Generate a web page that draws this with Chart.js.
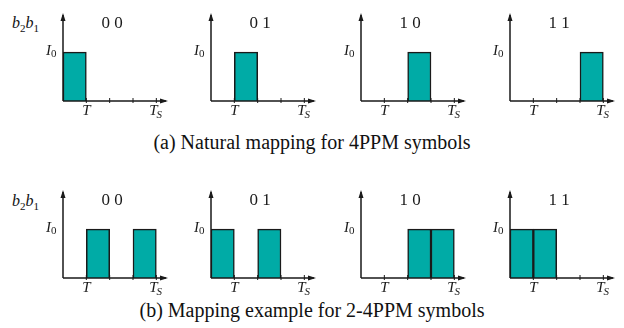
<!DOCTYPE html>
<html>
<head>
<meta charset="utf-8">
<script src="https://cdn.jsdelivr.net/npm/chart.js@4.4.1/dist/chart.umd.min.js"></script>
<style>
  body { margin: 0; background: #fff; }
  #page { position: relative; width: 624px; height: 328px; overflow: hidden; font-family: "Liberation Serif", serif; color: #111; }
  canvas { position: absolute; }
  .bits { position: absolute; left: 12px; font-size: 16px; font-style: italic; line-height: 18px; }
  .bits sub { font-size: 11px; font-style: normal; }
  .caption { position: absolute; left: 0; width: 624px; text-align: center; font-size: 20px; line-height: 24px; }
</style>
</head>
<body>
<div id="page">
  <div class="bits" style="top:14px"><i>b</i><sub>2</sub><i>b</i><sub>1</sub></div>
  <div class="bits" style="top:192px"><i>b</i><sub>2</sub><i>b</i><sub>1</sub></div>
  <div class="caption" style="top:130px">(a) Natural mapping for 4PPM symbols</div>
  <div class="caption" style="top:298px">(b) Mapping example for 2-4PPM symbols</div>
</div>
<script>
// slot centres (in units of T) and the symbols
var slots = [0.5, 1.5, 2.5, 3.5];
var symbols = ['0 0', '0 1', '1 0', '1 1'];
// pulse amplitude per slot (1 = I0)
var natural = [[1, 0, 0, 0], [0, 1, 0, 0], [0, 0, 1, 0], [0, 0, 0, 1]];
var mapping24 = [[0, 1, 0, 1], [1, 0, 1, 0], [0, 0, 1, 1], [1, 1, 0, 0]];
// ticks on the time axis
var tickValues = [1, 2, 3, 4];
var tickLabels = ['T', '', '', 'TS'];

var panelX = [63, 211, 361, 510];
var rowTop = [13, 190];
var teal = 'rgb(0, 171, 166)';
var ink = '#1a1a1a';

function arrowHead(ctx, x, y, dir) {
  ctx.beginPath();
  if (dir === 'up') {
    ctx.moveTo(x, y); ctx.lineTo(x - 2.5, y + 8); ctx.lineTo(x + 2.5, y + 8);
  } else {
    ctx.moveTo(x, y); ctx.lineTo(x - 8, y - 2.5); ctx.lineTo(x - 8, y + 2.5);
  }
  ctx.closePath();
  ctx.fill();
}

var axesPlugin = {
  id: 'axes',
  afterDraw: function(chart) {
    var ctx = chart.ctx;
    var xs = chart.scales.x, ys = chart.scales.y;
    var x0 = xs.getPixelForValue(0), xEnd = xs.getPixelForValue(xs.max);
    var y0 = ys.getPixelForValue(0), yTop = ys.getPixelForValue(ys.max);
    ctx.save();
    ctx.strokeStyle = ink;
    ctx.fillStyle = ink;
    ctx.lineWidth = 1.5;
    ctx.beginPath();
    ctx.moveTo(x0, y0); ctx.lineTo(x0, yTop + 2);
    ctx.moveTo(x0, y0); ctx.lineTo(xEnd - 2, y0);
    ctx.stroke();
    arrowHead(ctx, x0, yTop, 'up');
    arrowHead(ctx, xEnd, y0, 'right');

    ctx.lineWidth = 1;
    tickValues.forEach(function(v, i) {
      var px = xs.getPixelForValue(v);
      ctx.beginPath();
      ctx.moveTo(px, y0 - 3); ctx.lineTo(px, y0 + 2);
      ctx.stroke();
      var lab = tickLabels[i];
      if (!lab) return;
      ctx.textBaseline = 'alphabetic';
      ctx.textAlign = 'left';
      ctx.font = 'italic 15px "Liberation Serif"';
      var w = ctx.measureText(lab[0]).width;
      var total = w + (lab.length > 1 ? 6 : 0);
      ctx.fillText(lab[0], px - total / 2, y0 + 14);
      if (lab.length > 1) {
        ctx.font = 'italic 11px "Liberation Serif"';
        ctx.fillText(lab.slice(1), px - total / 2 + w - 1, y0 + 17);
      }
    });

    // I0 level label
    var yI = ys.getPixelForValue(1);
    ctx.textAlign = 'left';
    ctx.font = 'italic 15px "Liberation Serif"';
    ctx.fillText('I', x0 - 17, yI + 3);
    ctx.font = '11px "Liberation Serif"';
    ctx.fillText('0', x0 - 12, yI + 5);

    // symbol label
    ctx.font = '17px "Liberation Serif"';
    ctx.textAlign = 'center';
    ctx.textBaseline = 'middle';
    ctx.fillText(chart.options.plugins.axes.symbol, xs.getPixelForValue(2.1), yTop + 11);
    ctx.restore();
  }
};

function panel(left, top, values, symbol) {
  var c = document.createElement('canvas');
  c.width = 141; c.height = 125;
  c.style.left = (left - 28) + 'px';
  c.style.top = (top - 13) + 'px';
  document.getElementById('page').appendChild(c);
  new Chart(c.getContext('2d'), {
    type: 'bar',
    data: {
      datasets: [{
        data: slots.map(function(s, i) { return {x: s, y: values[i]}; }),
        backgroundColor: teal,
        borderColor: ink,
        borderWidth: 1.5,
        barPercentage: 1,
        categoryPercentage: 1
      }]
    },
    options: {
      responsive: false,
      animation: false,
      layout: {padding: {left: 28, right: 8, top: 13, bottom: 24}},
      scales: {
        x: {type: 'linear', min: 0, max: 4.5, offset: false, display: false},
        y: {min: 0, max: 1.8, display: false}
      },
      plugins: {legend: {display: false}, tooltip: {enabled: false}, axes: {symbol: symbol}}
    },
    plugins: [axesPlugin]
  });
}

natural.forEach(function(v, i) { panel(panelX[i], rowTop[0], v, symbols[i]); });
mapping24.forEach(function(v, i) { panel(panelX[i], rowTop[1], v, symbols[i]); });
</script>
</body>
</html>
